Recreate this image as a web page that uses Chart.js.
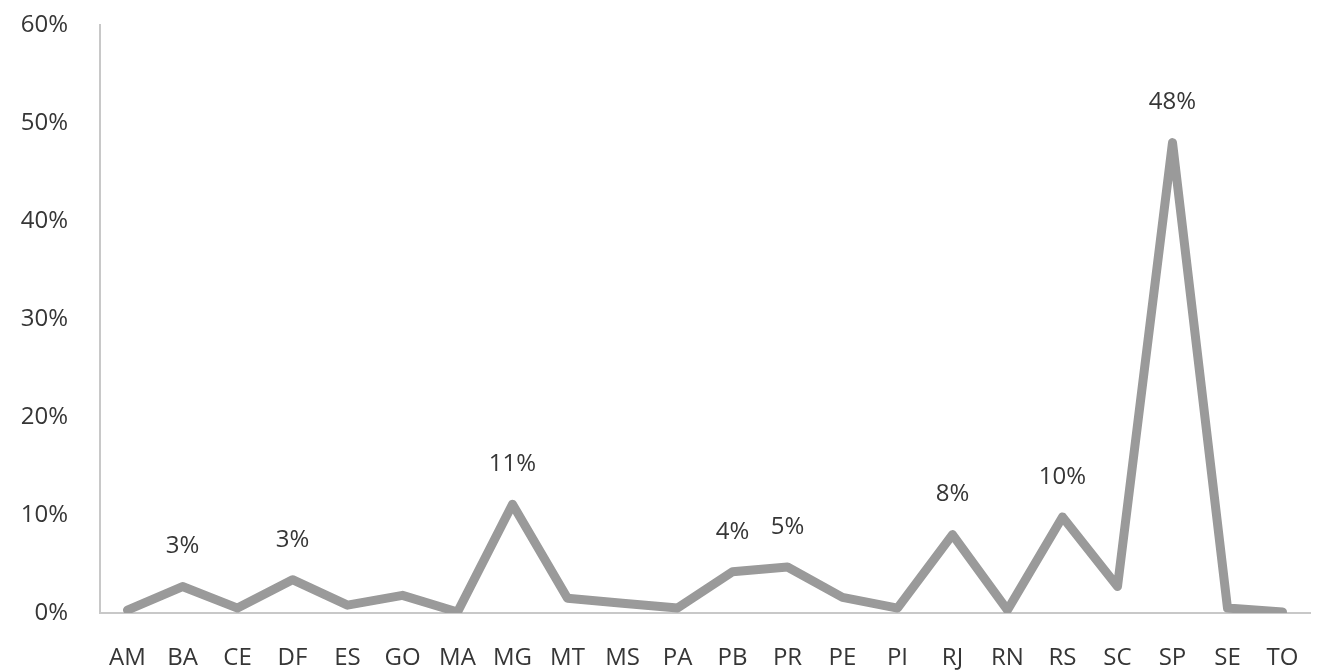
<!DOCTYPE html>
<html>
<head>
<meta charset="utf-8">
<script src="https://cdn.jsdelivr.net/npm/chart.js@4"></script>
<style>
  html, body { margin: 0; padding: 0; background: #fff; }
  #wrap { width: 1324px; height: 672px; }
</style>
</head>
<body>
<div id="wrap"><canvas id="chart"></canvas></div>
<script>
// States (UF) and share of total, in percent
const states = ['AM', 'BA', 'CE', 'DF', 'ES', 'GO', 'MA', 'MG', 'MT', 'MS', 'PA',
                'PB', 'PR', 'PE', 'PI', 'RJ', 'RN', 'RS', 'SC', 'SP', 'SE', 'TO'];
const shares = [0.3, 2.7, 0.5, 3.4, 0.8, 1.8, 0.1, 11.1, 1.5, 1.0, 0.5,
                4.2, 4.7, 1.6, 0.5, 8.0, 0.3, 9.8, 2.7, 48.0, 0.5, 0.1];
// labels printed above selected points
const pointLabels = [null, '3%', null, '3%', null, null, null, '11%', null, null, null,
                     '4%', '5%', null, null, '8%', null, '10%', null, '48%', null, null];
const yTicks = [0, 10, 20, 30, 40, 50, 60];

const textColor = '#363636';
const fontFamily = "'Open Sans', 'Noto Sans', sans-serif";

// simple value-label plugin (no datalabels lib available)
const labelPlugin = {
    id: 'pointLabels',
    afterDatasetsDraw(chart) {
        const ctx = chart.ctx;
        const meta = chart.getDatasetMeta(0);
        ctx.save();
        ctx.fillStyle = textColor;
        ctx.font = '24px ' + fontFamily;
        ctx.textAlign = 'center';
        ctx.textBaseline = 'middle';
        meta.data.forEach((pt, i) => {
            if (!pointLabels[i]) return;
            ctx.fillText(pointLabels[i], pt.x, pt.y - 40);
        });
        ctx.restore();
    }
};

new Chart(document.getElementById('chart'), {
    type: 'line',
    data: {
        labels: states,
        datasets: [{
            data: shares,
            borderColor: '#9a9a9a',
            borderWidth: 9,
            borderJoinStyle: 'round',
            borderCapStyle: 'round',
            pointRadius: 0,
            tension: 0,
            fill: false
        }]
    },
    options: {
        responsive: true,
        maintainAspectRatio: false,
        animation: false,
        layout: { padding: { top: 25, right: 14, left: 0, bottom: 0 } },
        plugins: {
            legend: { display: false },
            tooltip: { enabled: false }
        },
        scales: {
            x: {
                offset: true,
                grid: { display: false },
                border: { display: true, color: '#c8c8c8', width: 2 },
                ticks: {
                    color: textColor,
                    font: { size: 24, family: fontFamily },
                    padding: 23,
                    maxRotation: 0,
                    autoSkip: false
                },
                afterFit: s => { s.height = 59; }
            },
            y: {
                min: 0,
                max: 60,
                grid: { display: false },
                border: { display: true, color: '#c8c8c8', width: 2 },
                afterBuildTicks: s => { s.ticks = yTicks.map(v => ({ value: v })); },
                ticks: {
                    color: textColor,
                    font: { size: 24, family: fontFamily, lineHeight: 0.5 },
                    padding: 24,
                    callback: v => v + '%'
                },
                afterFit: s => { s.width = 100; s.paddingTop = 0; }
            }
        }
    },
    plugins: [labelPlugin]
});
</script>
</body>
</html>
